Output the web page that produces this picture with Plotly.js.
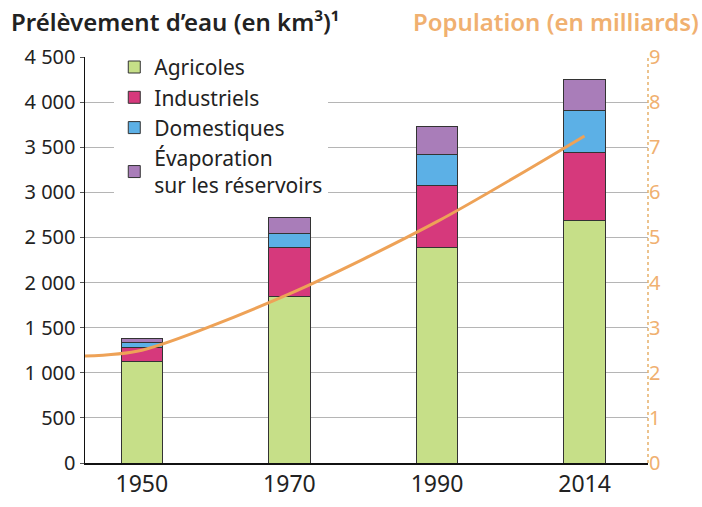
<!DOCTYPE html>
<html>
<head>
<meta charset="utf-8">
<script src="https://cdn.plot.ly/plotly-3.0.1.min.js"></script>
<style>html,body{margin:0;padding:0;background:#fff}#chart{width:702px;height:507px}</style>
</head>
<body>
<div id="chart"></div>
<script>
// Data
const years = ['1950', '1970', '1990', '2014'];
const agricoles = [1130, 1840, 2390, 2690];
const industriels = [145, 545, 690, 755];
const domestiques = [65, 155, 335, 465];
const evaporation = [45, 180, 320, 345];
const population = [2.5, 3.75, 5.35, 7.25];   // milliards, at each year
const populationAtAxisStart = 2.37;            // where the curve meets the left axis

const xRange = [-0.385, 3.43];
const idx = years.map((_, i) => i);

const font = 'Noto Sans, Open Sans, sans-serif';
const dark = '#222';
const orange = '#eea257';
const border = {color: '#333', width: 1};

function barTrace(name, values, color) {
  return {type: 'bar', name: name, x: idx, y: values,
    marker: {color: color, line: border}, width: 0.28, hoverinfo: 'skip'};
}

const traces = [
  barTrace('Agricoles', agricoles, '#c6df88'),
  barTrace('Industriels', industriels, '#d6397c'),
  barTrace('Domestiques', domestiques, '#5cb0e6'),
  barTrace('Évaporation<br>sur les réservoirs', evaporation, '#a97db9'),
  {type: 'scatter', mode: 'lines', x: [xRange[0]].concat(idx), y: [populationAtAxisStart].concat(population),
   yaxis: 'y2', line: {color: orange, width: 3, shape: 'spline', smoothing: 0.8}, showlegend: false, hoverinfo: 'skip'}
];

const layout = {
  width: 702, height: 507,
  margin: {l: 85, r: 54, t: 57, b: 44},
  paper_bgcolor: '#fff', plot_bgcolor: '#fff',
  barmode: 'stack',
  separators: ', ',
  font: {family: font, size: 20, color: dark},
  xaxis: {range: xRange, tickvals: idx, ticktext: years, showgrid: false, zeroline: false,
    showline: true, linecolor: '#111', linewidth: 1.5, ticks: '', tickfont: {size: 23, color: dark}},
  yaxis: {range: [0, 4500], dtick: 500, tickformat: ',d', showgrid: true, gridcolor: '#b5b5b5', gridwidth: 1,
    zeroline: false, showline: true, linecolor: '#111', linewidth: 1.5, ticks: 'outside', ticklen: 4, tickcolor: '#555',
    tickfont: {size: 20, color: dark}},
  yaxis2: {range: [0, 9], dtick: 1, overlaying: 'y', side: 'right', showgrid: false, zeroline: false,
    showline: false, ticks: '', tickfont: {size: 20, color: '#f0b070'}},
  legend: {x: 0.052, y: 1.025, xanchor: 'left', yanchor: 'top', traceorder: 'normal', bgcolor: '#fff',
    font: {size: 21, color: dark}, itemwidth: 30, tracegroupgap: 0},
  shapes: [{type: 'line', xref: 'paper', yref: 'paper', x0: 1, x1: 1, y0: 0, y1: 1,
    line: {color: '#e6b06a', width: 1.5, dash: 'dot'}}],
  annotations: [
    {xref: 'paper', yref: 'paper', x: -0.135, y: 1.088, xanchor: 'left', yanchor: 'middle', showarrow: false,
     text: 'Prélèvement d’eau (en km³)¹', font: {size: 24, weight: 600, color: dark, family: font}},
    {xref: 'paper', yref: 'paper', x: 1.095, y: 1.088, xanchor: 'right', yanchor: 'middle', showarrow: false,
     text: 'Population (en milliards)', font: {size: 24, weight: 600, color: '#f0b070', family: font}}
  ]
};

Plotly.newPlot('chart', traces, layout, {displayModeBar: false, staticPlot: true});
</script>
</body>
</html>
